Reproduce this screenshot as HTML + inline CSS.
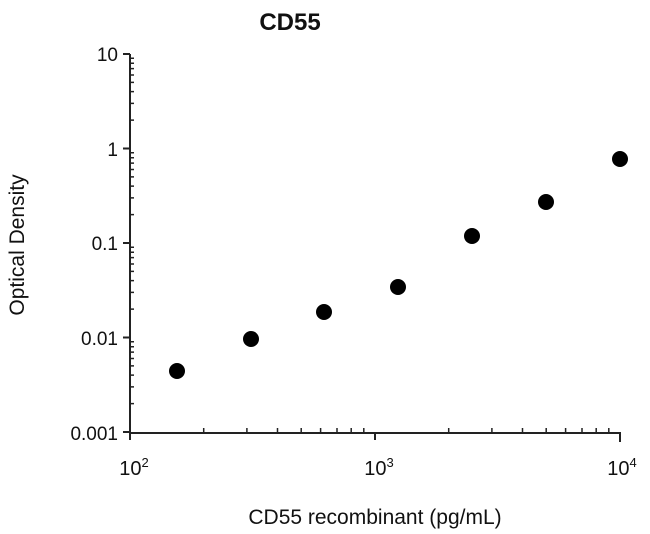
<!DOCTYPE html>
<html><head><style>body{margin:0;background:#fff}svg{display:block}text{font-family:"Liberation Sans",sans-serif;fill:#111}</style></head>
<body>
<svg width="650" height="534" viewBox="0 0 650 534" xmlns="http://www.w3.org/2000/svg">
<text x="290" y="30" font-size="24" font-weight="bold" text-anchor="middle">CD55</text>
<g stroke="#222" stroke-width="2" fill="none">
<line x1="130" y1="54" x2="130" y2="433"/>
<line x1="129" y1="433" x2="621" y2="433"/>
<path d="M123 54H130M123 148.5H130M123 243H130M123 337.5H130M123 432H130"/>
<path d="M130 433V440M375 433V440M620 433V442"/>
</g>
<g stroke="#222" stroke-width="1.5" fill="none">
<path d="M130 403.6h4M130 386.9h4M130 375.1h4M130 365.9h4M130 358.5h4M130 352.1h4M130 346.7h4M130 341.8h4
M130 309.1h4M130 292.4h4M130 280.6h4M130 271.4h4M130 264h4M130 257.6h4M130 252.2h4M130 247.3h4
M130 214.6h4M130 197.9h4M130 186.1h4M130 176.9h4M130 169.5h4M130 163.1h4M130 157.7h4M130 152.8h4
M130 120.1h4M130 103.4h4M130 91.6h4M130 82.4h4M130 75h4M130 68.6h4M130 63.2h4M130 58.3h4"/>
<path d="M203.7 433v-5M246.9 433v-5M277.5 433v-5M301.2 433v-5M320.6 433v-5M337 433v-5M351.2 433v-5M363.8 433v-5
M448.7 433v-5M491.9 433v-5M522.5 433v-5M546.2 433v-5M565.6 433v-5M582 433v-5M596.2 433v-5M608.8 433v-5"/>
</g>
<g fill="#000">
<circle cx="177" cy="371" r="8"/><circle cx="251" cy="339" r="8"/><circle cx="324" cy="312" r="8"/><circle cx="398" cy="287" r="8"/><circle cx="472" cy="236" r="8"/><circle cx="546" cy="202" r="8"/><circle cx="620" cy="159" r="8"/>
</g>
<g font-size="19" text-anchor="end">
<text x="118" y="61">10</text><text x="118" y="156">1</text><text x="118" y="250">0.1</text><text x="118" y="345">0.01</text><text x="118" y="440">0.001</text>
</g>
<g font-size="20" text-anchor="middle">
<text x="134" y="475">10<tspan font-size="13" dy="-8">2</tspan></text>
<text x="379" y="475">10<tspan font-size="13" dy="-8">3</tspan></text>
<text x="622" y="475">10<tspan font-size="13" dy="-8">4</tspan></text>
</g>
<text x="375" y="524" font-size="21" text-anchor="middle">CD55 recombinant (pg/mL)</text>
<text transform="translate(24,245) rotate(-90)" font-size="21" text-anchor="middle">Optical Density</text>
</svg>
</body></html>
